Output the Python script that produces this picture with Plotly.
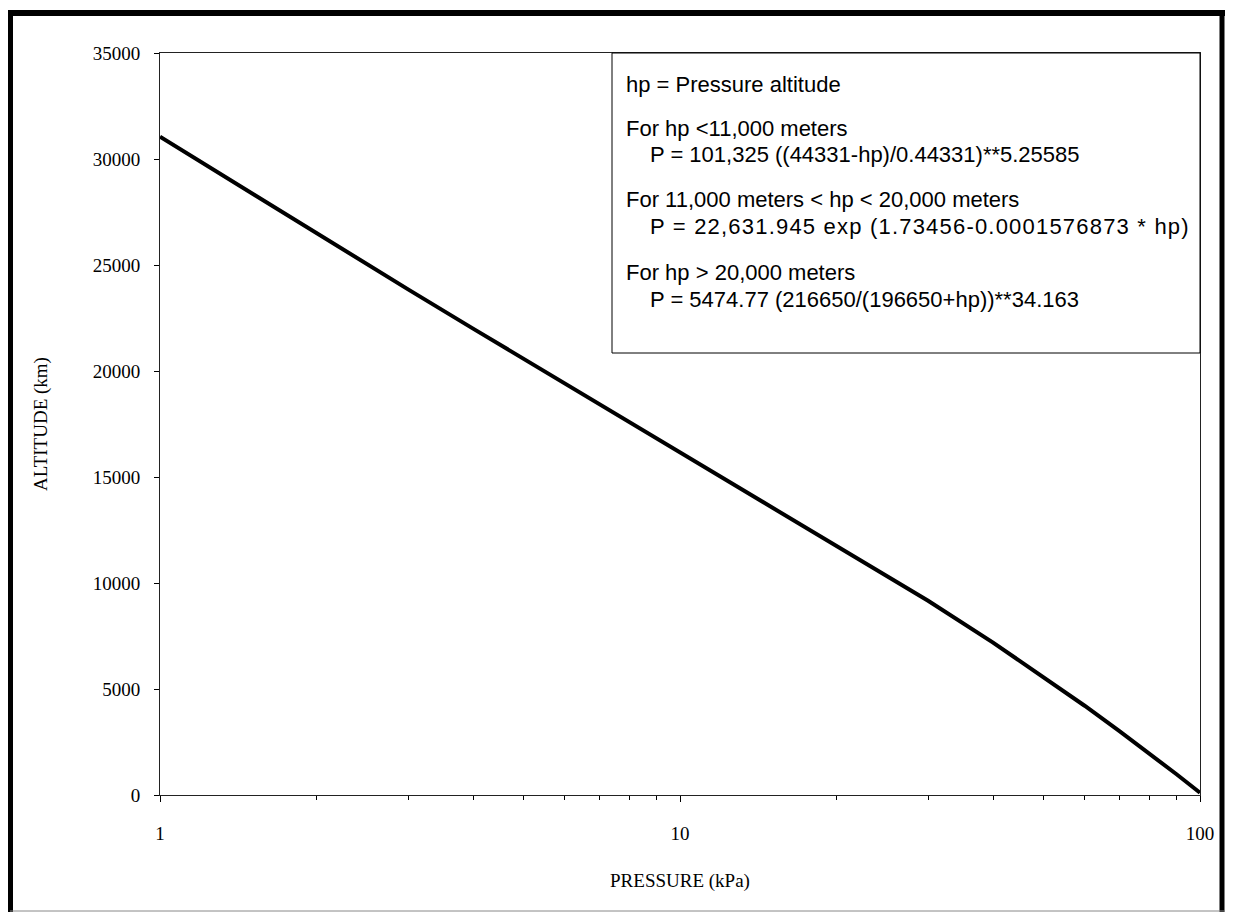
import plotly.graph_objects as go

# Data (pressure in kPa, altitude in metres)
pressure_kpa = [1, 2, 3, 4, 5, 6, 7, 8, 9, 10, 20, 30, 40, 50, 60, 70, 80, 90, 100]
altitude_m = [31050, 26480, 23850, 22000, 20580, 19420, 18440, 17600, 16850, 16180,
              11780, 9160, 7190, 5570, 4210, 3010, 1950, 990, 110]

x_tick_vals = [1, 10, 100]
x_tick_text = ["1", "10", "100"]
y_tick_vals = [0, 5000, 10000, 15000, 20000, 25000, 30000, 35000]
y_tick_text = ["0", "5000", "10000", "15000", "20000", "25000", "30000", "35000"]

box_lines = [
    ("hp = Pressure altitude", False),
    ("For hp <11,000 meters", False),
    ("P = 101,325 ((44331-hp)/0.44331)**5.25585", True),
    ("For 11,000 meters < hp < 20,000 meters", False),
    ("P = 22,631.945 exp (1.73456-0.0001576873 * hp)", True),
    ("For hp > 20,000 meters", False),
    ("P = 5474.77 (216650/(196650+hp))**34.163", True),
]
box_line_px = [85, 128, 155, 200, 227, 272, 299]

# page offset from the default body margin
OFF = 8
PAGE_W, PAGE_H = 1233, 921
W, H = PAGE_W - 2 * OFF, PAGE_H - 2 * OFF
# plot area in page pixels
PL, PR, PT, PB = 160, 1200, 53, 795
L, T = PL - OFF, PT - OFF
R, B = W - (PR - OFF), H - (PB - OFF)
PW, PH = W - L - R, H - T - B


def px(x):
    return (x - PL) / PW


def py(y):
    return (PB - y) / PH


fig = go.Figure()
fig.add_trace(go.Scatter(x=pressure_kpa, y=altitude_m, mode="lines",
                         line=dict(color="black", width=4), showlegend=False))

serif = "Liberation Serif, Times New Roman, serif"
sans = "Liberation Sans, Arial, sans-serif"

fig.update_layout(
    width=W, height=H,
    margin=dict(l=L, r=R, t=T, b=B, autoexpand=False),
    paper_bgcolor="white", plot_bgcolor="white",
    font=dict(family=serif, size=19, color="black"),
    xaxis=dict(type="log", range=[0, 2], tickvals=x_tick_vals, ticktext=x_tick_text,
               ticks="outside", ticklen=6, tickcolor="black", showline=True,
               linecolor="#222", linewidth=1, mirror=True, showgrid=False, zeroline=False,
               ticklabelstandoff=15,
               minor=dict(ticks="outside", ticklen=4, tickcolor="black",
                          tickvals=[2, 3, 4, 5, 6, 7, 8, 9, 20, 30, 40, 50, 60, 70, 80, 90],
                          showgrid=False),
               title=dict(text="PRESSURE (kPa)", standoff=30,
                          font=dict(family=serif, size=19))),
    yaxis=dict(range=[0, 35000], tickvals=y_tick_vals, ticktext=y_tick_text,
               ticks="outside", ticklen=5,
               tickcolor="black", showline=True, linecolor="#222", linewidth=1,
               mirror=True, showgrid=False, zeroline=False, ticklabelstandoff=10,
               title=dict(text="ALTITUDE (km)", standoff=40,
                          font=dict(family=serif, size=19))),
)

shapes = []
# equation box
shapes.append(dict(type="rect", xref="paper", yref="paper",
                   x0=px(612), x1=px(1200), y0=py(353), y1=py(53),
                   line=dict(color="black", width=1), fillcolor="white", layer="above"))
# outer frame
shapes.append(dict(type="line", xref="paper", yref="paper", x0=px(10), x1=px(10),
                   y0=py(10), y1=py(912), line=dict(color="black", width=6)))
shapes.append(dict(type="line", xref="paper", yref="paper", x0=px(7), x1=px(1225),
                   y0=py(13), y1=py(13), line=dict(color="black", width=6)))
shapes.append(dict(type="line", xref="paper", yref="paper", x0=px(1222), x1=px(1222),
                   y0=py(10), y1=py(912), line=dict(color="black", width=5)))
shapes.append(dict(type="line", xref="paper", yref="paper", x0=px(10), x1=px(1225),
                   y0=py(911), y1=py(911), line=dict(color="#888", width=1)))
fig.update_layout(shapes=shapes)

for i, ((text, indent), ypx) in enumerate(zip(box_lines, box_line_px)):
    shown = text
    if i == 4:
        shown = '<span style="letter-spacing:1.2px">' + text + '</span>'
    fig.add_annotation(xref="paper", yref="paper", x=px(648 if indent else 624), y=py(ypx),
                       xanchor="left", yanchor="middle", showarrow=False, text=shown,
                       font=dict(family=sans, size=22, color="black"))

fig.write_html("out.html")
